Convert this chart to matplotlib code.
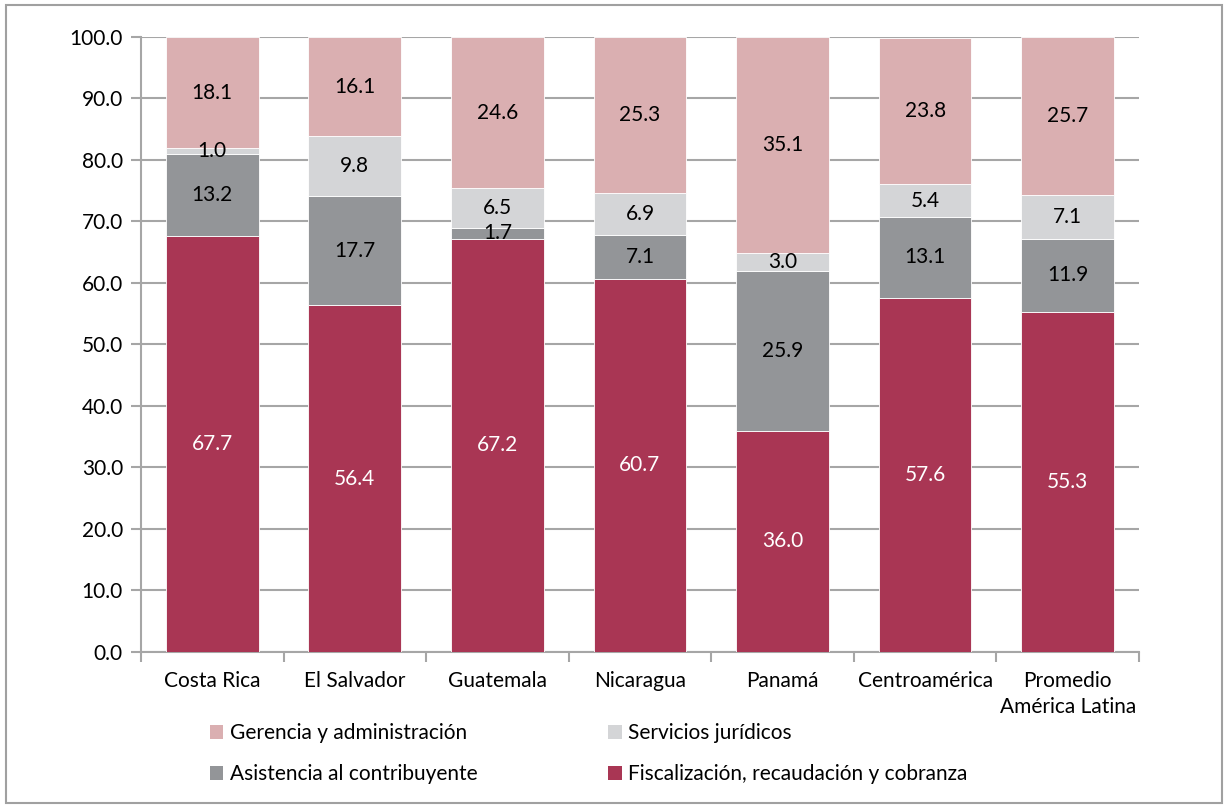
import numpy as np
import matplotlib.pyplot as plt
from matplotlib.patches import Rectangle, Patch

plt.rcParams['font.family'] = ['Lato', 'DejaVu Sans']

paises = ['Costa Rica', 'El Salvador', 'Guatemala', 'Nicaragua', 'Panamá',
          'Centroamérica', 'Promedio\nAmérica Latina']
fiscalizacion = [67.7, 56.4, 67.2, 60.7, 36.0, 57.6, 55.3]
asistencia = [13.2, 17.7, 1.7, 7.1, 25.9, 13.1, 11.9]
juridicos = [1.0, 9.8, 6.5, 6.9, 3.0, 5.4, 7.1]
gerencia = [18.1, 16.1, 24.6, 25.3, 35.1, 23.8, 25.7]

series = [
    ('Fiscalización, recaudación y cobranza', fiscalizacion, '#A93654', 'white'),
    ('Asistencia al contribuyente', asistencia, '#939598', 'black'),
    ('Servicios jurídicos', juridicos, '#D4D5D7', 'black'),
    ('Gerencia y administración', gerencia, '#DAAFB1', 'black'),
]
fs = 15

fig = plt.figure(figsize=(12.28, 8.06), dpi=100)
ax = fig.add_axes([0.1148, 0.1911, 0.8127, 0.763])

x = np.arange(len(paises))
base = np.zeros(len(paises))
handles = {}
for nombre, vals, color, tcolor in series:
    vals = np.array(vals)
    ax.bar(x, vals, 0.65, bottom=base, color=color, edgecolor='white',
           linewidth=0.6, zorder=3)
    for xi, b, v in zip(x, base, vals):
        ax.text(xi, b + v / 2, f'{v:.1f}', ha='center', va='center',
                fontsize=fs, color=tcolor, zorder=4)
    handles[nombre] = Patch(facecolor=color)
    base = base + vals

ax.set_xlim(-0.5, len(paises) - 0.5)
ax.set_ylim(0, 100)
ax.set_yticks(np.arange(0, 101, 10))
ax.set_yticklabels([f'{v:.1f}' for v in np.arange(0, 101, 10)], fontsize=fs)
ax.yaxis.grid(True, color='#A6A6A6', linewidth=1.5, zorder=0)
ax.set_axisbelow(True)

ax.set_xticks(x)
ax.set_xticklabels(paises, fontsize=fs, linespacing=1.35)
ax.set_xticks(np.arange(-0.5, len(paises), 1), minor=True)
ax.tick_params(axis='x', which='major', length=0, pad=14)
ax.tick_params(axis='x', which='minor', length=7, width=1.5, color='#A6A6A6')
ax.tick_params(axis='y', length=7, width=1.5, color='#A6A6A6', pad=6)

for s in ['top', 'right']:
    ax.spines[s].set_visible(False)
for s in ['left', 'bottom']:
    ax.spines[s].set_color('#A6A6A6')
    ax.spines[s].set_linewidth(1.5)

orden = ['Gerencia y administración', 'Asistencia al contribuyente',
         'Servicios jurídicos', 'Fiscalización, recaudación y cobranza']
fig.legend([handles[n] for n in orden], orden, ncol=2, frameon=False,
           fontsize=fs, loc='upper left', bbox_to_anchor=(0.164, 0.113),
           handlelength=0.65, handleheight=0.65, handletextpad=0.3,
           columnspacing=6.3, labelspacing=1.0, borderaxespad=0)

fig.patches.append(Rectangle((0.005, 0.004), 0.99, 0.99, transform=fig.transFigure,
                             fill=False, edgecolor='#A0A0A0', linewidth=1.5))

fig.savefig('out.png', dpi=100)
